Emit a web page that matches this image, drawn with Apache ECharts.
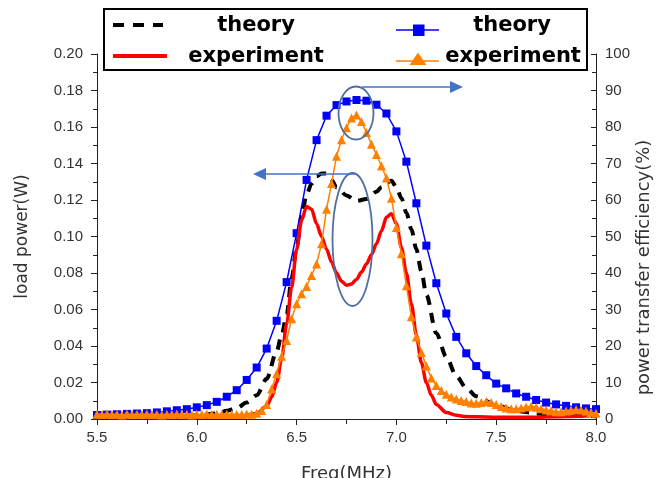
<!DOCTYPE html>
<html>
<head>
<meta charset="utf-8">
<title>load power / efficiency</title>
<script src="https://cdn.jsdelivr.net/npm/echarts@6.0.0/dist/echarts.min.js"></script>
<style>
  html, body { margin: 0; padding: 0; background: #fff; }
  #chart { width: 656px; height: 478px; }
</style>
</head>
<body>
<div id="chart"></div>
<script>
// x轴刻度
const freqTicks = [5.5, 6.0, 6.5, 7.0, 7.5, 8.0];

// 理论负载功率 (W)
const theoryPowerFreq = [5.5, 5.7, 5.9, 6.0, 6.1, 6.15, 6.2, 6.25, 6.3, 6.35, 6.4, 6.425, 6.45, 6.475, 6.5, 6.525,
  6.55, 6.575, 6.6, 6.625, 6.65, 6.675, 6.7, 6.75, 6.8, 6.85, 6.9, 6.925, 6.95, 6.975, 7.0, 7.025, 7.05, 7.075,
  7.1, 7.125, 7.15, 7.2, 7.25, 7.3, 7.35, 7.4, 7.5, 7.6, 7.7, 7.8, 7.9, 8.0];
const theoryPower = [0.0008, 0.001, 0.0015, 0.002, 0.003, 0.0045, 0.006, 0.009, 0.013, 0.022, 0.037, 0.046, 0.057,
  0.077, 0.094, 0.111, 0.123, 0.129, 0.133, 0.1345, 0.1345, 0.131, 0.127, 0.1225, 0.1195, 0.1205, 0.1245, 0.127,
  0.1295, 0.1305, 0.127, 0.121, 0.113, 0.104, 0.093, 0.081, 0.068, 0.047, 0.034, 0.0235, 0.017, 0.0125, 0.0075,
  0.0045, 0.003, 0.0022, 0.0018, 0.0015];

// 实验负载功率 (W)
const expPowerFreq = [5.5, 5.8, 6.0, 6.2, 6.3, 6.35, 6.375, 6.4, 6.425, 6.45, 6.475, 6.5, 6.525, 6.55, 6.575, 6.6,
  6.625, 6.65, 6.675, 6.7, 6.725, 6.75, 6.775, 6.8, 6.825, 6.85, 6.875, 6.9, 6.925, 6.95, 6.975, 7.0, 7.025, 7.05,
  7.075, 7.1, 7.125, 7.15, 7.175, 7.2, 7.25, 7.3, 7.35, 7.4, 7.5, 7.6, 7.7, 7.8, 7.9, 8.0];
const expPower = [0.0008, 0.0008, 0.0009, 0.0012, 0.003, 0.007, 0.012, 0.02, 0.033, 0.052, 0.072, 0.093, 0.109,
  0.1165, 0.115, 0.107, 0.1, 0.093, 0.086, 0.08, 0.0755, 0.0733, 0.074, 0.0765, 0.0805, 0.085, 0.09, 0.096, 0.103,
  0.1105, 0.1125, 0.107, 0.094, 0.08, 0.063, 0.046, 0.031, 0.02, 0.013, 0.008, 0.0035, 0.002, 0.0014, 0.0012,
  0.001, 0.001, 0.001, 0.0012, 0.0015, 0.002];

// 理论传输效率 (%)
const theoryEffFreq = [5.5, 5.55, 5.6, 5.65, 5.7, 5.75, 5.8, 5.85, 5.9, 5.95, 6.0, 6.05, 6.1, 6.15, 6.2, 6.25, 6.3,
  6.35, 6.4, 6.45, 6.5, 6.55, 6.6, 6.65, 6.7, 6.75, 6.8, 6.85, 6.9, 6.95, 7.0, 7.05, 7.1, 7.15, 7.2, 7.25, 7.3,
  7.35, 7.4, 7.45, 7.5, 7.55, 7.6, 7.65, 7.7, 7.75, 7.8, 7.85, 7.9, 7.95, 8.0];
const theoryEff = [1.1, 1.2, 1.3, 1.4, 1.5, 1.6, 1.8, 2.1, 2.4, 2.7, 3.2, 3.8, 4.7, 6.1, 7.9, 10.7, 14.1, 19.3, 26.9,
  37.5, 50.9, 65.5, 76.4, 83.1, 86.0, 87.0, 87.4, 87.2, 86.1, 83.7, 78.8, 70.5, 59.1, 47.5, 37.2, 28.9, 22.5, 18.0,
  14.5, 12.0, 9.7, 8.4, 7.0, 6.1, 5.2, 4.5, 4.0, 3.6, 3.2, 2.9, 2.7];

// 实验传输效率 (%)
const expEffFreq = [5.5, 5.525, 5.55, 5.575, 5.6, 5.625, 5.65, 5.675, 5.7, 5.725, 5.75, 5.775, 5.8, 5.825, 5.85,
  5.875, 5.9, 5.925, 5.95, 5.975, 6.0, 6.025, 6.05, 6.075, 6.1, 6.125, 6.15, 6.175, 6.2, 6.225, 6.25, 6.275, 6.3,
  6.325, 6.35, 6.375, 6.4, 6.425, 6.45, 6.475, 6.5, 6.525, 6.55, 6.575, 6.6, 6.625, 6.65, 6.675, 6.7, 6.725, 6.75,
  6.775, 6.8, 6.825, 6.85, 6.875, 6.9, 6.925, 6.95, 6.975, 7.0, 7.025, 7.05, 7.075, 7.1, 7.125, 7.15, 7.175, 7.2,
  7.225, 7.25, 7.275, 7.3, 7.325, 7.35, 7.375, 7.4, 7.425, 7.45, 7.475, 7.5, 7.525, 7.55, 7.575, 7.6, 7.625, 7.65,
  7.675, 7.7, 7.725, 7.75, 7.775, 7.8, 7.825, 7.85, 7.875, 7.9, 7.925, 7.95, 7.975, 8.0];
const expEff = [1.3, 1.2, 1.4, 1.2, 1.3, 1.1, 1.4, 1.2, 1.3, 1.2, 1.4, 1.2, 1.3, 1.1, 1.3, 1.2, 1.4, 1.2, 1.3, 1.1,
  1.3, 1.2, 1.4, 1.2, 1.3, 1.2, 1.3, 1.2, 1.3, 1.2, 1.4, 1.3, 1.6, 2.3, 4.0, 8.2, 12.4, 17.2, 21.5, 27.5, 31.6, 34.3,
  36.3, 39.3, 42.5, 48.0, 57.5, 64.5, 72.0, 76.5, 79.8, 82.5, 83.3, 81.5, 78.5, 75.3, 72.5, 69.3, 66.0, 60.5, 52.5,
  45.3, 36.5, 28.0, 22.5, 18.2, 14.5, 11.2, 9.2, 7.8, 6.8, 6.0, 5.5, 5.1, 4.8, 4.4, 4.3, 4.5, 4.8, 4.5, 4.0, 3.4,
  3.0, 2.8, 2.8, 3.0, 3.3, 3.5, 3.2, 2.8, 2.5, 2.3, 2.0, 2.0, 2.2, 2.4, 2.6, 2.5, 2.2, 1.8, 1.6];

const zip = (xs, ys) => xs.map((x, i) => [x, ys[i]]);

const labelFont = { fontFamily: "Liberation Sans, Arial", fontSize: 15, color: "#333" };
const nameFont = { fontFamily: "DejaVu Sans", color: "#333" };
const axisColor = "#222";
const arrowColor = "#4472c4";
const ringColor = "#4f6f9f";

const chart = echarts.init(document.getElementById("chart"));

chart.setOption({
  animation: false,
  backgroundColor: "#fff",
  grid: { left: 97, right: 60, top: 54, bottom: 59, outerBoundsMode: "none", containLabel: false },
  xAxis: {
    type: "value",
    min: freqTicks[0],
    max: freqTicks[freqTicks.length - 1],
    interval: 0.5,
    name: "Freq(MHz)",
    nameLocation: "middle",
    nameGap: 46,
    nameMoveOverlap: false,
    nameTextStyle: { ...nameFont, fontSize: 18 },
    axisLine: { show: true, lineStyle: { color: axisColor, width: 1 } },
    axisTick: { show: true, length: 6, lineStyle: { color: axisColor } },
    minorTick: { show: true, splitNumber: 2, length: 5, lineStyle: { color: axisColor } },
    axisLabel: { ...labelFont, margin: 11, formatter: (v) => v.toFixed(1) },
    splitLine: { show: false },
  },
  yAxis: [
    {
      type: "value",
      min: 0,
      max: 0.2,
      interval: 0.02,
      name: "load power(W)",
      nameLocation: "middle",
      nameGap: 66,
      nameMoveOverlap: false,
      nameTextStyle: { ...nameFont, fontSize: 17 },
      axisLine: { show: true, lineStyle: { color: axisColor, width: 1 } },
      axisTick: { show: true, length: 6, lineStyle: { color: axisColor } },
      minorTick: { show: true, splitNumber: 2, length: 4, lineStyle: { color: axisColor } },
      axisLabel: { ...labelFont, margin: 14, formatter: (v) => v.toFixed(2) },
      splitLine: { show: false },
    },
    {
      type: "value",
      min: 0,
      max: 100,
      interval: 10,
      position: "right",
      name: "power transfer efficiency(%)",
      nameLocation: "middle",
      nameGap: 39,
      nameMoveOverlap: false,
      nameTextStyle: { ...nameFont, fontSize: 18, padding: [0, 62, 0, 0] },
      axisLine: { show: true, lineStyle: { color: axisColor, width: 1 } },
      axisTick: { show: true, inside: true, length: 5, lineStyle: { color: axisColor } },
      minorTick: { show: true, splitNumber: 2, length: 4, lineStyle: { color: axisColor } },
      axisLabel: { ...labelFont, margin: 9 },
      splitLine: { show: false },
    },
  ],
  series: [
    {
      name: "theory power",
      type: "line",
      yAxisIndex: 0,
      data: zip(theoryPowerFreq, theoryPower),
      smooth: 0.3,
      smoothMonotone: "x",
      showSymbol: false,
      symbol: "none",
      lineStyle: { color: "#000", width: 4, type: [10, 8] },
      z: 2,
    },
    {
      name: "theory efficiency",
      type: "line",
      yAxisIndex: 1,
      data: zip(theoryEffFreq, theoryEff),
      symbol: "rect",
      symbolSize: 8,
      itemStyle: { color: "#0000ff" },
      lineStyle: { color: "#0000ff", width: 1.5 },
      z: 3,
    },
    {
      name: "experiment power",
      type: "line",
      yAxisIndex: 0,
      data: zip(expPowerFreq, expPower),
      smooth: 0.3,
      smoothMonotone: "x",
      showSymbol: false,
      symbol: "none",
      lineStyle: { color: "#ff0000", width: 3.5 },
      z: 4,
    },
    {
      name: "experiment efficiency",
      type: "line",
      yAxisIndex: 1,
      data: zip(expEffFreq, expEff),
      symbol: "triangle",
      symbolSize: 9,
      itemStyle: { color: "#ff8000" },
      lineStyle: { color: "#ff8000", width: 1.5 },
      z: 5,
    },
  ],
  graphic: [
    // 图例框
    { type: "rect", z: 100, shape: { x: 104, y: 9, width: 483, height: 61 },
      style: { fill: "#fff", stroke: "#000", lineWidth: 2 } },
    { type: "line", z: 101, shape: { x1: 113, y1: 25, x2: 163, y2: 25 },
      style: { stroke: "#000", lineWidth: 4, lineDash: [11, 9] } },
    { type: "text", z: 101, x: 256, y: 26,
      style: { text: "theory", fontFamily: "DejaVu Sans", fontWeight: "bold", fontSize: 21, fill: "#000",
        align: "center", verticalAlign: "middle" } },
    { type: "line", z: 101, shape: { x1: 113, y1: 56, x2: 167, y2: 56 },
      style: { stroke: "#ff0000", lineWidth: 4 } },
    { type: "text", z: 101, x: 256, y: 57,
      style: { text: "experiment", fontFamily: "DejaVu Sans", fontWeight: "bold", fontSize: 21, fill: "#000",
        align: "center", verticalAlign: "middle" } },
    { type: "line", z: 101, shape: { x1: 396, y1: 30, x2: 439, y2: 30 },
      style: { stroke: "#0000ff", lineWidth: 1.5 } },
    { type: "rect", z: 102, shape: { x: 413, y: 24.5, width: 11.5, height: 11.5 },
      style: { fill: "#0000ff" } },
    { type: "text", z: 101, x: 512, y: 26,
      style: { text: "theory", fontFamily: "DejaVu Sans", fontWeight: "bold", fontSize: 21, fill: "#000",
        align: "center", verticalAlign: "middle" } },
    { type: "line", z: 101, shape: { x1: 396, y1: 61, x2: 439, y2: 61 },
      style: { stroke: "#ff8000", lineWidth: 1.5 } },
    { type: "polygon", z: 102, shape: { points: [[418, 52.5], [426.5, 65], [409.5, 65]] },
      style: { fill: "#ff8000" } },
    { type: "text", z: 101, x: 513, y: 57,
      style: { text: "experiment", fontFamily: "DejaVu Sans", fontWeight: "bold", fontSize: 21, fill: "#000",
        align: "center", verticalAlign: "middle" } },

    // 标注：椭圆和箭头
    { type: "ellipse", z: 50, shape: { cx: 356, cy: 113, rx: 17.5, ry: 26.5 },
      style: { fill: "none", stroke: ringColor, lineWidth: 1.8 } },
    { type: "line", z: 50, shape: { x1: 362, y1: 87, x2: 452, y2: 87 },
      style: { stroke: arrowColor, lineWidth: 1.5 } },
    { type: "polygon", z: 50, shape: { points: [[463, 87], [450, 81], [450, 93]] },
      style: { fill: arrowColor } },
    { type: "ellipse", z: 50, shape: { cx: 352.5, cy: 239.5, rx: 20, ry: 66.5 },
      style: { fill: "none", stroke: ringColor, lineWidth: 1.8 } },
    { type: "line", z: 50, shape: { x1: 265, y1: 174, x2: 355, y2: 174 },
      style: { stroke: arrowColor, lineWidth: 1.5 } },
    { type: "polygon", z: 50, shape: { points: [[253, 174], [266, 168], [266, 180]] },
      style: { fill: arrowColor } },
  ],
});
</script>
</body>
</html>
